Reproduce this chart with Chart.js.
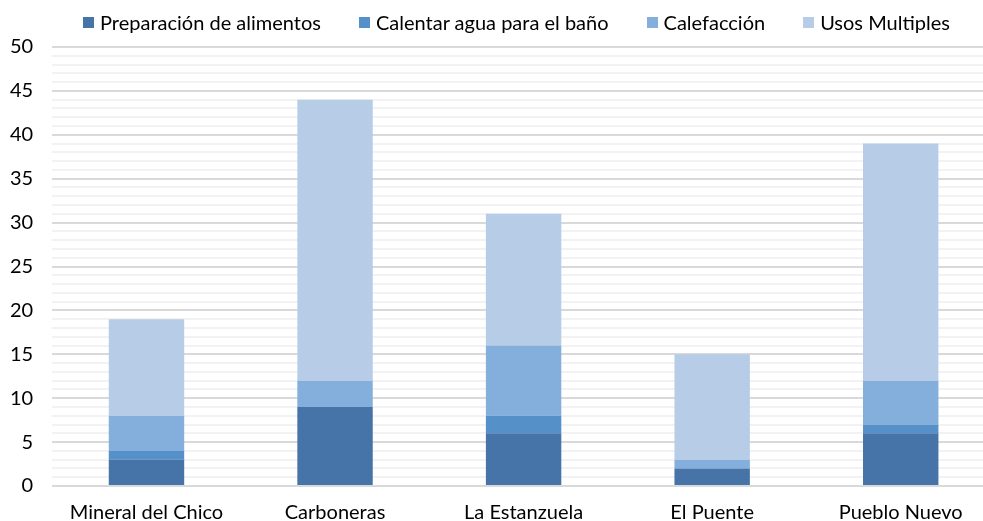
<!DOCTYPE html>
<html>
<head>
<meta charset="utf-8">
<script src="https://cdn.jsdelivr.net/npm/chart.js@4"></script>
<style>
  html, body { margin: 0; padding: 0; background: #fff; overflow: hidden; }
  #wrap { position: relative; width: 983px; height: 521px; overflow: hidden; }
  #lienzo { position: absolute; left: -18px; top: 0; width: 1013px; height: 540px; }
  #leyenda {
    position: absolute; left: 83px; top: 9px; z-index: 2;
    display: flex; gap: 38px;
    font-family: Lato, "Open Sans", sans-serif; font-size: 20px; color: #000;
    white-space: nowrap; line-height: 26px;
  }
  #leyenda span.item { display: flex; align-items: center; }
  #leyenda span.caja { width: 11px; height: 11px; margin-right: 6px; display: inline-block; }
</style>
</head>
<body>
<div id="wrap">
  <div id="lienzo"><canvas id="grafico"></canvas></div>
  <div id="leyenda"></div>
</div>
<script>
const categorias = ['Mineral del Chico', 'Carboneras', 'La Estanzuela', 'El Puente', 'Pueblo Nuevo'];
const preparacion = [3, 9, 6, 2, 6];
const calentarAgua = [1, 0, 2, 0, 1];
const calefaccion = [4, 3, 8, 1, 5];
const usosMultiples = [11, 32, 15, 12, 27];
const yMax = 50;

const series = [
    { label: 'Preparación de alimentos', data: preparacion, backgroundColor: '#4674A8' },
    { label: 'Calentar agua para el baño', data: calentarAgua, backgroundColor: '#5590C8' },
    { label: 'Calefacción', data: calefaccion, backgroundColor: '#84AEDB' },
    { label: 'Usos Multiples', data: usosMultiples, backgroundColor: '#B7CDE7' }
];

// leyenda en HTML para controlar el espaciado
const leyenda = document.getElementById('leyenda');
series.forEach(function (s) {
    const item = document.createElement('span');
    item.className = 'item';
    const caja = document.createElement('span');
    caja.className = 'caja';
    caja.style.background = s.backgroundColor;
    item.appendChild(caja);
    item.appendChild(document.createTextNode(s.label));
    leyenda.appendChild(item);
});

Chart.defaults.font.family = 'Lato, "Open Sans", sans-serif';
Chart.defaults.font.size = 20;
Chart.defaults.color = '#000';

const ctx = document.getElementById('grafico');

new Chart(ctx, {
    type: 'bar',
    data: {
        labels: categorias,
        datasets: series
    },
    options: {
        responsive: true,
        maintainAspectRatio: false,
        animation: false,
        layout: { padding: { left: 9, right: 0, top: 47, bottom: 0 } },
        datasets: {
            bar: { barPercentage: 0.4, categoryPercentage: 1 }
        },
        plugins: {
            legend: { display: false },
            tooltip: { enabled: false }
        },
        scales: {
            x: {
                stacked: true,
                grid: { display: false, drawTicks: false },
                border: { display: false },
                ticks: { padding: 15 }
            },
            y: {
                stacked: true,
                min: 0,
                max: yMax,
                border: { display: false },
                grid: {
                    drawTicks: false,
                    lineWidth: 2,
                    color: function (c) {
                        return c.tick && c.tick.value % 5 === 0 ? '#D9D9D9' : '#F2F2F2';
                    }
                },
                ticks: {
                    stepSize: 1,
                    autoSkip: false,
                    padding: 19,
                    callback: function (v) { return v % 5 === 0 ? v : ''; }
                }
            }
        }
    }
});
</script>
</body>
</html>
